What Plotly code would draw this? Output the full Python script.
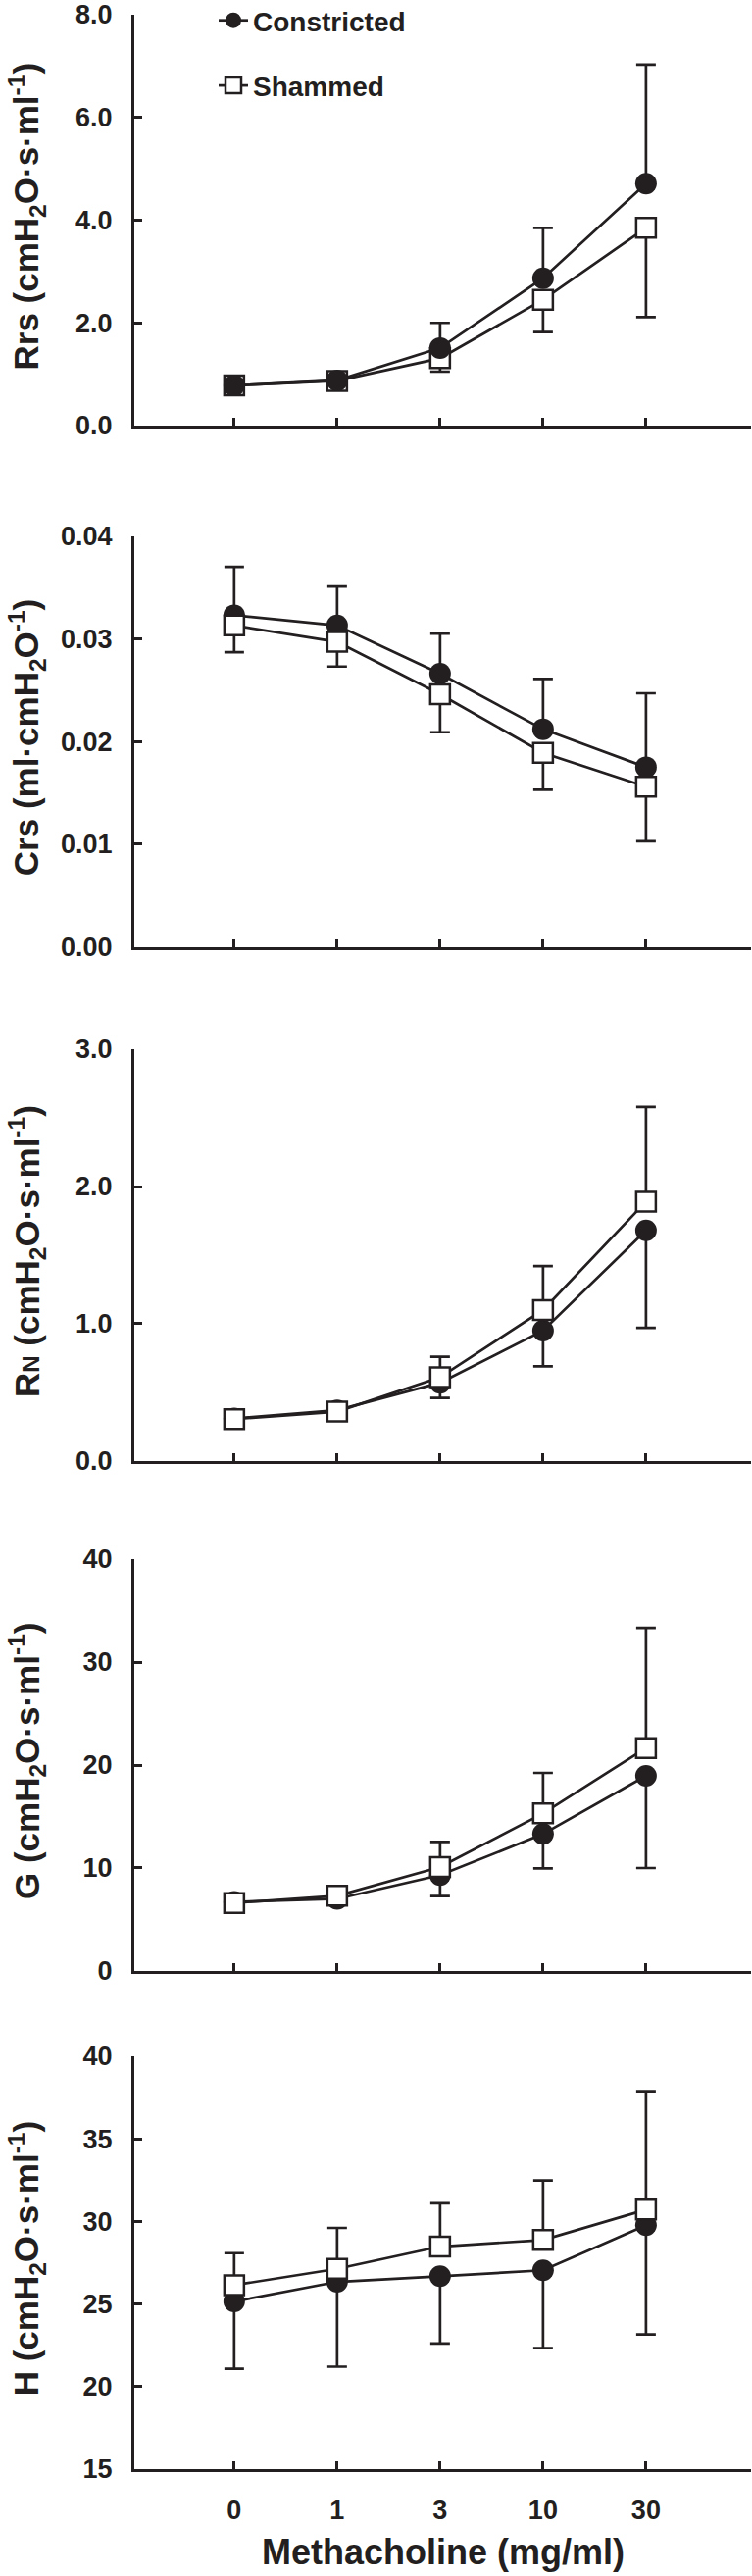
import plotly.graph_objects as go

# ---------------- data ----------------
doses = ["0", "1", "3", "10", "30"]

rrs_con = [0.78, 0.88, 1.51, 2.87, 4.71]
rrs_con_err = [0.05, 0.05, 0.49, 0.98, 2.32]
rrs_sham = [0.78, 0.87, 1.31, 2.45, 3.85]
rrs_sham_err = [0.05, 0.05, 0.26, 0.63, 1.74]

crs_con = [0.0323, 0.0313, 0.0266, 0.0212, 0.0175]
crs_con_err = [0.0047, 0.0038, 0.0039, 0.0049, 0.0072]
crs_sham = [0.0313, 0.0297, 0.0246, 0.0189, 0.0156]
crs_sham_err = [0.0026, 0.0024, 0.0037, 0.0036, 0.0053]

rn_con = [0.31, 0.37, 0.57, 0.95, 1.68]
rn_con_err = [0.02, 0.02, 0.11, 0.26, 0.71]
rn_sham = [0.305, 0.36, 0.61, 1.10, 1.89]
rn_sham_err = [0.02, 0.02, 0.15, 0.32, 0.69]

g_con = [6.7, 7.0, 9.3, 13.3, 18.95]
g_con_err = [0.3, 0.3, 2.03, 3.33, 8.95]
g_sham = [6.6, 7.3, 10.1, 15.3, 21.65]
g_sham_err = [0.5, 0.4, 2.44, 3.94, 11.68]

h_con = [25.14, 26.33, 26.67, 27.03, 29.76]
h_con_err = [4.07, 5.14, 4.07, 4.71, 6.61]
h_sham = [26.13, 27.12, 28.47, 28.87, 30.71]
h_sham_err = [1.94, 2.48, 2.62, 3.61, 7.18]

series_names = ["Constricted", "Shammed"]
x_title = "Methacholine (mg/ml)"

y_titles = [
    "Rrs (cmH<sub>2</sub>O·s·ml<sup>-1</sup>)",
    "Crs (ml·cmH<sub>2</sub>O<sup>-1</sup>)",
    "R<span style='font-size:24px'>N</span> (cmH<sub>2</sub>O·s·ml<sup>-1</sup>)",
    "G (cmH<sub>2</sub>O·s·ml<sup>-1</sup>)",
    "H (cmH<sub>2</sub>O·s·ml<sup>-1</sup>)",
]

# ---------------- styling / layout ----------------
W, H = 767, 2627
ML = 137
PW = W - ML - 1
INK = "#231f20"
FONT = "Liberation Sans, Arial, sans-serif"

panels = [
    dict(con=rrs_con, ce=rrs_con_err, sham=rrs_sham, se=rrs_sham_err,
         yr=[0, 8], dt=2, fmt=".1f", con_up=True, con_top=True),
    dict(con=crs_con, ce=crs_con_err, sham=crs_sham, se=crs_sham_err,
         yr=[0, 0.04], dt=0.01, fmt=".2f", con_up=True, con_top=False),
    dict(con=rn_con, ce=rn_con_err, sham=rn_sham, se=rn_sham_err,
         yr=[0, 3], dt=1, fmt=".1f", con_up=False, con_top=False),
    dict(con=g_con, ce=g_con_err, sham=g_sham, se=g_sham_err,
         yr=[0, 40], dt=10, fmt="d", con_up=False, con_top=False),
    dict(con=h_con, ce=h_con_err, sham=h_sham, se=h_sham_err,
         yr=[15, 40], dt=5, fmt="d", con_up=False, con_top=False),
]
# pixel top/bottom of each plot area
px_top = [15, 546.7, 1070, 1590, 2097]
px_bot = [434, 965.7, 1490, 2010, 2517.7]


def py(page_y):
    return (H - page_y) / H


def pxp(page_x):
    return (page_x - ML) / PW


fig = go.Figure()
annotations = []
layout = dict(
    width=W, height=H,
    margin=dict(l=ML, r=1, t=0, b=0, pad=0, autoexpand=False),
    paper_bgcolor="white", plot_bgcolor="white",
    font=dict(family=FONT, color=INK, size=27, weight="bold"),
    showlegend=True,
    legend=dict(
        x=pxp(218), y=py(-4), xanchor="left", yanchor="top",
        font=dict(size=28, family=FONT, color=INK, weight="bold"),
        bgcolor="rgba(0,0,0,0)", borderwidth=0,
        traceorder="grouped", tracegroupgap=27,
    ),
)

zeros = [0] * len(doses)
for i, p in enumerate(panels):
    n = "" if i == 0 else str(i + 1)
    xa, ya = "x" + n, "y" + n
    dom = [py(px_bot[i]), py(px_top[i])]

    con_err = dict(type="data", symmetric=False,
                   array=p["ce"] if p["con_up"] else zeros,
                   arrayminus=zeros if p["con_up"] else p["ce"],
                   color=INK, thickness=2.7, width=10)
    sham_err = dict(type="data", symmetric=False,
                    array=zeros if p["con_up"] else p["se"],
                    arrayminus=p["se"] if p["con_up"] else zeros,
                    color=INK, thickness=2.7, width=10)

    con_tr = go.Scatter(
        x=doses, y=p["con"], xaxis=xa, yaxis=ya, mode="lines+markers",
        name=series_names[0], legendgroup="con", legendrank=1,
        showlegend=(i == 0),
        line=dict(color=INK, width=2.7),
        marker=dict(symbol="circle", size=22, color=INK, line=dict(width=0)),
        error_y=con_err, cliponaxis=False,
    )
    sham_tr = go.Scatter(
        x=doses, y=p["sham"], xaxis=xa, yaxis=ya, mode="lines+markers",
        name=series_names[1], legendgroup="sham", legendrank=2,
        showlegend=(i == 0),
        line=dict(color=INK, width=2.7),
        marker=dict(symbol="square", size=20, color="white",
                    line=dict(color=INK, width=2.5)),
        error_y=sham_err, cliponaxis=False,
    )
    if p["con_top"]:
        fig.add_trace(sham_tr)
        fig.add_trace(con_tr)
    else:
        fig.add_trace(con_tr)
        fig.add_trace(sham_tr)

    lo, hi = p["yr"]
    eps = (hi - lo) * 1e-4
    layout["xaxis" + n] = dict(
        domain=[0, 1], anchor=ya, type="category",
        categoryorder="array", categoryarray=doses,
        range=[-0.97, 5.02], showgrid=False, zeroline=False,
        showline=True, linecolor=INK, linewidth=3,
        ticks="inside", ticklen=8, tickwidth=2.5, tickcolor=INK,
        showticklabels=(i == 4), ticklabelstandoff=16,
        ticklabeloverflow="allow",
        tickfont=dict(size=27, family=FONT, color=INK, weight="bold"),
    )
    layout["yaxis" + n] = dict(
        domain=dom, anchor=xa, range=[lo - eps, hi + eps],
        tick0=lo, dtick=p["dt"], tickformat=p["fmt"],
        showgrid=False, zeroline=False,
        showline=True, linecolor=INK, linewidth=3,
        ticks="inside", ticklen=8, tickwidth=2.5, tickcolor=INK,
        ticklabelstandoff=14, ticklabeloverflow="allow",
        tickfont=dict(size=27, family=FONT, color=INK, weight="bold"),
    )
    annotations.append(dict(
        text=y_titles[i], textangle=-90, showarrow=False,
        xref="paper", yref="paper", x=pxp(27),
        y=py((px_top[i] + px_bot[i]) / 2 - 4),
        xanchor="center", yanchor="middle",
        font=dict(size=35, family=FONT, color=INK, weight="bold"),
    ))

annotations.append(dict(
    text=x_title, showarrow=False, xref="paper", yref="paper",
    x=0.5, y=py(2602), xanchor="center", yanchor="middle",
    font=dict(size=36, family=FONT, color=INK, weight="bold"),
))
layout["annotations"] = annotations
fig.update_layout(**layout)
# remove the browser's default 8px body margin so the figure fills the window
fig.write_html("out.html",
               config={"displayModeBar": False},
               post_script="document.body.style.margin='0px';")
